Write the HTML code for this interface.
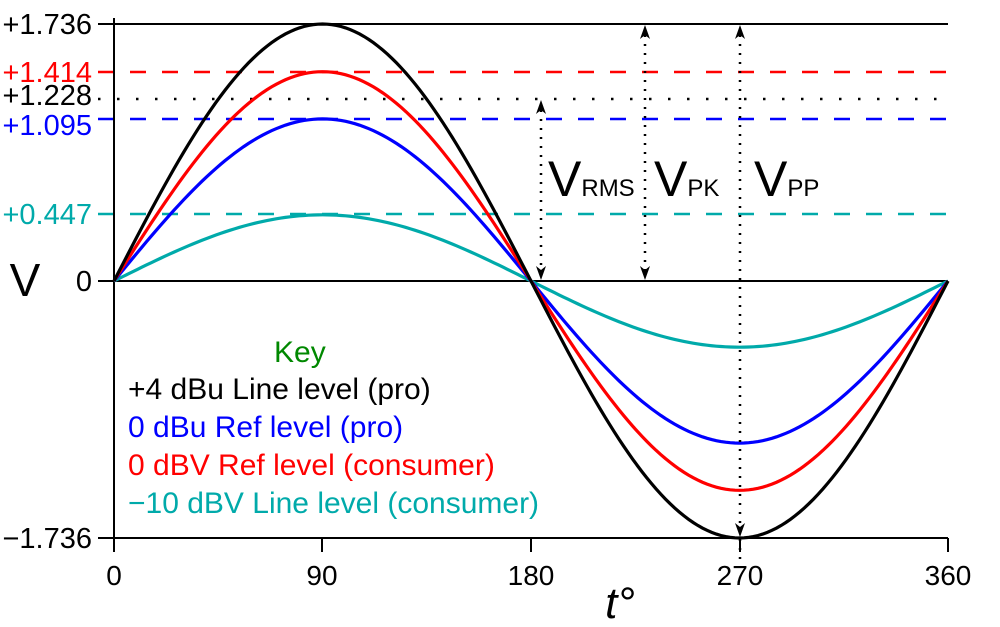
<!DOCTYPE html>
<html><head><meta charset="utf-8"><style>
html,body{margin:0;padding:0;background:#fff}
svg{display:block;font-family:"Liberation Sans",sans-serif}
</style></head><body>
<svg id="s" width="1000" height="627" viewBox="0 0 1000 627" xmlns="http://www.w3.org/2000/svg">
<line x1="98" y1="24" x2="948" y2="24" stroke="#000" stroke-width="2"/>
<line x1="98" y1="72" x2="948" y2="72" stroke="#f00" stroke-width="2.5" stroke-dasharray="16,16"/>
<line x1="98" y1="99" x2="948" y2="99" stroke="#000" stroke-width="2.5" stroke-dasharray="2.5,16.5"/>
<line x1="98" y1="119" x2="948" y2="119" stroke="#00f" stroke-width="2.5" stroke-dasharray="16,16"/>
<line x1="98" y1="214" x2="948" y2="214" stroke="#0aa" stroke-width="2.5" stroke-dasharray="16,16"/>
<line x1="98" y1="281" x2="948" y2="281" stroke="#000" stroke-width="2"/>
<line x1="98" y1="538" x2="948" y2="538" stroke="#000" stroke-width="2"/>
<line x1="114" y1="18" x2="114" y2="552" stroke="#000" stroke-width="2"/>
<line x1="322" y1="538" x2="322" y2="552" stroke="#000" stroke-width="2"/>
<line x1="531" y1="538" x2="531" y2="552" stroke="#000" stroke-width="2"/>
<line x1="740" y1="538" x2="740" y2="552" stroke="#000" stroke-width="2"/>
<line x1="948" y1="538" x2="948" y2="552" stroke="#000" stroke-width="2"/>
<g id="curves" fill="none" stroke-width="3.2"></g>
<g stroke="#000" stroke-width="2.5" stroke-dasharray="2,7" fill="none">
<line x1="541" y1="110" x2="541" y2="270"/>
<line x1="645" y1="35" x2="645" y2="270"/>
<line x1="740" y1="35" x2="740" y2="565"/>
</g>
<g fill="#000">
<path d="M541,100 l-5,14 l5,-4 l5,4 z"/>
<path d="M541,280 l-5,-14 l5,4 l5,-4 z"/>
<path d="M645,25 l-5,14 l5,-4 l5,4 z"/>
<path d="M645,280 l-5,-14 l5,4 l5,-4 z"/>
<path d="M740,25 l-5,14 l5,-4 l5,4 z"/>
<path d="M740,537 l-5,-14 l5,4 l5,-4 z"/>
</g>
<g font-size="29" text-anchor="end">
<text x="92" y="34" fill="#000">+1.736</text>
<text x="92" y="82" fill="#f00">+1.414</text>
<text x="92" y="105" fill="#000">+1.228</text>
<text x="92" y="135" fill="#00f">+1.095</text>
<text x="92" y="224" fill="#0aa">+0.447</text>
<text x="92" y="291" fill="#000">0</text>
<text x="92" y="548" fill="#000">−1.736</text>
</g>
<g font-size="28" text-anchor="middle">
<text x="114" y="585">0</text><text x="322" y="585">90</text><text x="531" y="585">180</text><text x="740" y="585">270</text><text x="948" y="585">360</text>
</g>
<text x="25" y="296" font-size="46" text-anchor="middle">V</text>
<text x="620" y="618" font-size="44" font-style="italic" text-anchor="middle">t°</text>
<g font-size="50"><text x="548" y="196">V<tspan font-size="24">RMS</tspan></text>
<text x="654" y="196">V<tspan font-size="24">PK</tspan></text>
<text x="754" y="196">V<tspan font-size="24">PP</tspan></text></g>
<g font-size="30">
<text x="274" y="362" fill="#080">Key</text>
<text x="128" y="399" fill="#000">+4 dBu Line level (pro)</text>
<text x="128" y="437" fill="#00f">0 dBu Ref level (pro)</text>
<text x="128" y="475" fill="#f00">0 dBV Ref level (consumer)</text>
<text x="128" y="513" fill="#0aa">−10 dBV Line level (consumer)</text>
</g>
</svg>
<script>
var g=document.getElementById('curves');
[[0.447,'#0aa'],[1.095,'#00f'],[1.414,'#f00'],[1.736,'#000']].forEach(function(c){
var d='';for(var i=0;i<=360;i+=2){var x=114+i*834/360,y=281-c[0]*148.04*Math.sin(i*Math.PI/180);d+=(i?'L':'M')+x.toFixed(2)+','+y.toFixed(2);}
var p=document.createElementNS('http://www.w3.org/2000/svg','path');p.setAttribute('d',d);p.setAttribute('stroke',c[1]);g.appendChild(p);});
</script>
</body></html>
